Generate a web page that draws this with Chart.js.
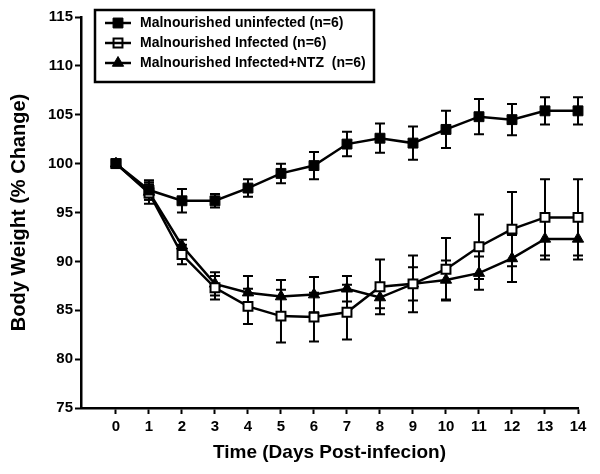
<!DOCTYPE html>
<html>
<head>
<meta charset="utf-8">
<title>Body Weight</title>
<script src="https://cdn.jsdelivr.net/npm/chart.js@4.4.0/dist/chart.umd.min.js"></script>
<style>
  html, body { margin: 0; padding: 0; background: #fff; }
  #wrap { width: 600px; height: 474px; }
</style>
</head>
<body>
<div id="wrap"><canvas id="chart" width="600" height="474"></canvas></div>
<script>
/* ─── DATA ─────────────────────────────────────────────── */
const days   = [0, 1, 2, 3, 4, 5, 6, 7, 8, 9, 10, 11, 12, 13, 14];
const xTicks = [0, 1, 2, 3, 4, 5, 6, 7, 8, 9, 10, 11, 12, 13, 14];
const yTicks = [75, 80, 85, 90, 95, 100, 105, 110, 115];

const seriesNames = [
  'Malnourished uninfected (n=6)',
  'Malnourished Infected (n=6)',
  'Malnourished Infected+NTZ  (n=6)'
];

const uninfected    = [100, 97.3, 96.2, 96.2, 97.5, 99.0, 99.8, 102.0, 102.6, 102.1, 103.5, 104.8, 104.5, 105.4, 105.4];
const uninfectedErr = [0, 1.0, 1.2, 0.7, 0.9, 1.0, 1.4, 1.25, 1.5, 1.7, 1.9, 1.8, 1.6, 1.4, 1.4];

const infected      = [100, 97.0, 90.7, 87.3, 85.4, 84.4, 84.3, 84.8, 87.4, 87.7, 89.2, 91.5, 93.3, 94.5, 94.5];
const infectedErr   = [0, 1.1, 1.0, 1.2, 1.8, 2.7, 2.5, 2.8, 2.8, 2.9, 3.2, 3.3, 3.8, 3.9, 3.9];

const ntz           = [100, 97.1, 91.6, 87.7, 86.8, 86.4, 86.6, 87.2, 86.3, 87.7, 88.1, 88.8, 90.3, 92.3, 92.3];
const ntzErr        = [0, 0.8, 0.6, 1.2, 1.7, 1.7, 1.8, 1.3, 1.1, 1.7, 2.0, 1.7, 2.4, 2.1, 2.1];

const FONT = 'Arial, "Liberation Sans", Helvetica, sans-serif';

function toPoints(vals) {
  return days.map((d, i) => ({ x: d, y: vals[i] }));
}

/* ─── ERROR BARS ───────────────────────────────────────── */
const errorBars = {
  id: 'errorBars',
  beforeDatasetsDraw(chart) {
    const ctx = chart.ctx;
    const yScale = chart.scales.y;
    ctx.save();
    ctx.strokeStyle = '#000';
    ctx.lineWidth = 2;
    chart.data.datasets.forEach((ds, i) => {
      const meta = chart.getDatasetMeta(i);
      meta.data.forEach((pt, j) => {
        const e = ds.errors[j];
        if (!e) return;
        const v = ds.data[j].y;
        const yt = yScale.getPixelForValue(v + e);
        const yb = yScale.getPixelForValue(v - e);
        ctx.beginPath();
        ctx.moveTo(pt.x, yt); ctx.lineTo(pt.x, yb);
        ctx.moveTo(pt.x - 5, yt); ctx.lineTo(pt.x + 5, yt);
        ctx.moveTo(pt.x - 5, yb); ctx.lineTo(pt.x + 5, yb);
        ctx.stroke();
      });
    });
    ctx.restore();
  }
};

/* ─── BOXED LEGEND ─────────────────────────────────────── */
const boxLegend = {
  id: 'boxLegend',
  afterDraw(chart) {
    const ctx = chart.ctx;
    ctx.save();
    ctx.strokeStyle = '#000';
    ctx.lineWidth = 2.5;
    ctx.strokeRect(95, 10, 279, 72);

    const rows = [23, 43, 63];
    chart.data.datasets.forEach((ds, i) => {
      const y = rows[i];
      const hollow = ds.pointBackgroundColor === '#fff';
      ctx.strokeStyle = '#000';
      ctx.lineWidth = 2.5;
      ctx.beginPath();
      ctx.moveTo(105, y); ctx.lineTo(131, y);
      ctx.stroke();
      // marker (hollow one lets the line show through, as in the original)
      ctx.fillStyle = hollow ? 'rgba(0,0,0,0)' : '#000';
      ctx.lineWidth = ds.pointBorderWidth;
      Chart.helpers.drawPoint(ctx, {
        pointStyle: ds.pointStyle,
        radius: ds.pointRadius,
        borderWidth: ds.pointBorderWidth
      }, 118, y);

      ctx.fillStyle = '#000';
      ctx.font = 'bold 14px ' + FONT;
      ctx.textBaseline = 'middle';
      ctx.textAlign = 'left';
      ctx.fillText(ds.label, 140, y);
    });
    ctx.restore();
  }
};

/* ─── CHART ────────────────────────────────────────────── */
function makeSet(label, vals, errs, style, radius, fill, bw) {
  return {
    label,
    data: toPoints(vals),
    errors: errs,
    borderColor: '#000',
    borderWidth: 2.5,
    pointStyle: style,
    pointRadius: radius,
    pointHoverRadius: radius,
    pointBackgroundColor: fill,
    pointBorderColor: '#000',
    pointBorderWidth: bw,
    tension: 0,
    fill: false,
    clip: false
  };
}

new Chart(document.getElementById('chart'), {
  type: 'line',
  data: {
    datasets: [
      makeSet(seriesNames[0], uninfected, uninfectedErr, 'rect', 7, '#000', 1),
      makeSet(seriesNames[1], infected, infectedErr, 'rect', 6.3, '#fff', 2),
      makeSet(seriesNames[2], ntz, ntzErr, 'triangle', 6.5, '#000', 1)
    ]
  },
  options: {
    responsive: false,
    animation: false,
    layout: { padding: { top: 17, right: 22, left: 0, bottom: 0 } },
    plugins: {
      legend: { display: false },
      tooltip: { enabled: false }
    },
    scales: {
      x: {
        type: 'linear',
        min: -1.06,
        max: 14,
        afterBuildTicks: (scale) => { scale.ticks = xTicks.map(v => ({ value: v })); },
        afterFit: (scale) => { scale.height = 66; },
        grid: { drawOnChartArea: false, drawTicks: true, tickLength: 6, tickWidth: 2, tickColor: '#000' },
        border: { display: true, color: '#000', width: 2.5 },
        ticks: {
          color: '#000',
          font: { family: FONT, size: 15, weight: 'bold' },
          padding: 4,
          maxRotation: 0,
          autoSkip: false
        },
        title: {
          display: true,
          text: 'Time (Days Post-infecion)',
          color: '#000',
          font: { family: FONT, size: 19, weight: 'bold' },
          padding: { top: 0, bottom: 10 }
        }
      },
      y: {
        min: 75,
        max: 115,
        afterBuildTicks: (scale) => { scale.ticks = yTicks.map(v => ({ value: v })); },
        afterFit: (scale) => { scale.width = 81; },
        grid: { drawOnChartArea: false, drawTicks: true, tickLength: 6, tickWidth: 2, tickColor: '#000' },
        border: { display: true, color: '#000', width: 2.5 },
        ticks: {
          color: '#000',
          font: { family: FONT, size: 15, weight: 'bold' },
          padding: 2
        },
        title: {
          display: true,
          text: 'Body Weight (% Change)',
          color: '#000',
          font: { family: FONT, size: 20, weight: 'bold' },
          padding: { top: 7, bottom: 0 }
        }
      }
    }
  },
  plugins: [errorBars, boxLegend]
});
</script>
</body>
</html>
